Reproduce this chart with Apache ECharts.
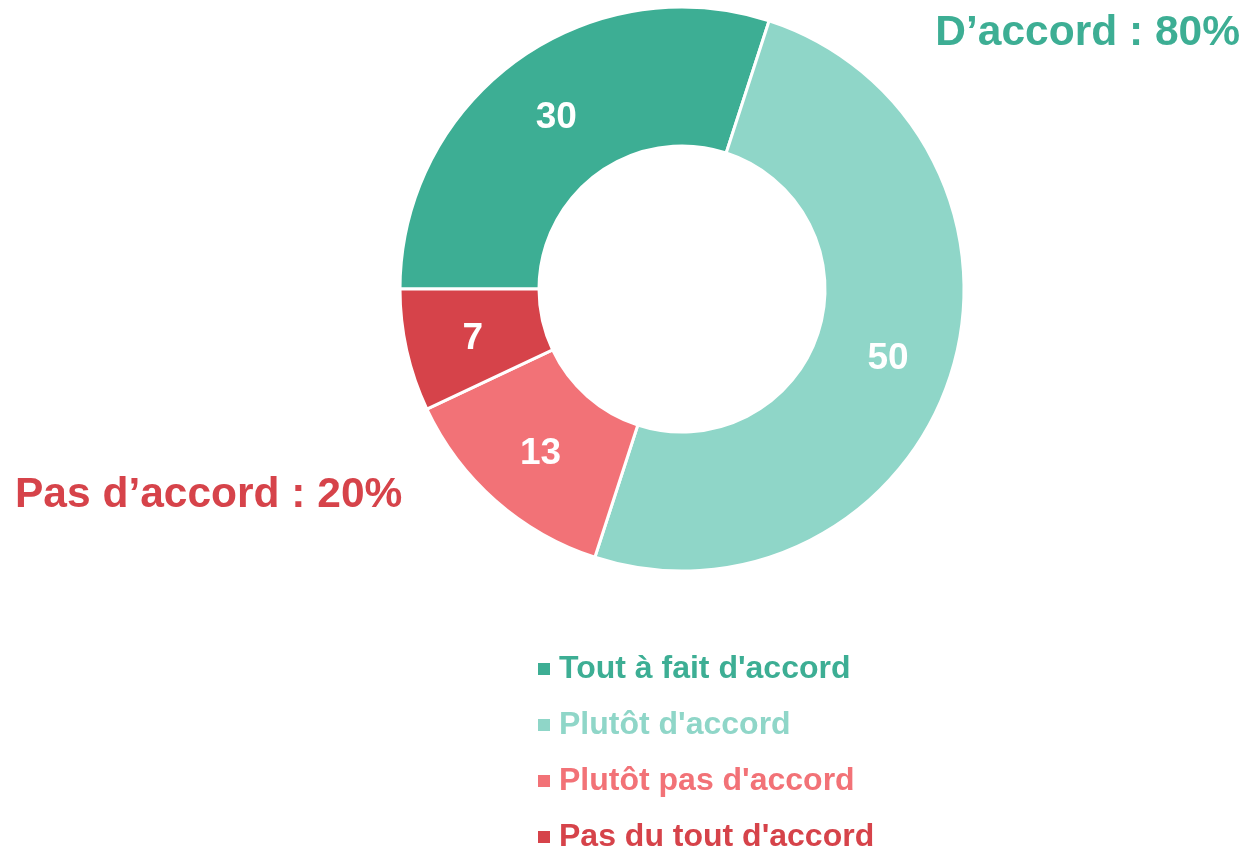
<!DOCTYPE html>
<html>
<head>
<meta charset="utf-8">
<script src="https://cdn.jsdelivr.net/npm/echarts@6/dist/echarts.min.js"></script>
<style>
  html, body { margin: 0; padding: 0; background: #fff; }
  #chart { width: 1246px; height: 849px; }
</style>
</head>
<body>
<div id="chart"></div>
<script>
  // données
  var categories = ["Tout à fait d'accord", "Plutôt d'accord", "Plutôt pas d'accord", "Pas du tout d'accord"];
  var values = [30, 50, 13, 7];
  var colors = ['#3DAE94', '#8FD6C8', '#F27277', '#D6434A'];

  var font = '"Liberation Sans", Arial, sans-serif';
  var agree = values[0] + values[1];
  var disagree = values[2] + values[3];

  var chart = echarts.init(document.getElementById('chart'));
  var option = {
    animation: false,
    color: colors,
    legend: {
      orient: 'vertical',
      left: 536,
      top: 651,
      height: 240,
      padding: 0,
      icon: 'rect',
      itemWidth: 14,
      itemHeight: 14,
      itemGap: 20,
      selectedMode: false,
      data: categories.map(function (c, i) {
        return {
          name: c,
          textStyle: {
            color: colors[i], fontSize: 32, fontWeight: 'bold', fontFamily: font,
            lineHeight: 36, padding: [0, 0, 0, 3]
          }
        };
      })
    },
    graphic: [
      {
        type: 'text',
        right: 6,
        top: 12,
        style: {
          text: 'D’accord : ' + agree + '%',
          fill: colors[0],
          font: 'bold 42.5px ' + font
        }
      },
      {
        type: 'text',
        left: 15,
        top: 474,
        style: {
          text: 'Pas d’accord : ' + disagree + '%',
          fill: colors[3],
          font: 'bold 42.5px ' + font
        }
      }
    ],
    series: [{
      type: 'pie',
      center: [682, 289],
      radius: [143, 282],
      startAngle: 180,
      clockwise: true,
      itemStyle: { borderColor: '#fff', borderWidth: 3 },
      label: {
        show: true,
        position: 'inside',
        formatter: '{c}',
        color: '#fff',
        fontSize: 37,
        fontWeight: 'bold',
        fontFamily: font,
        offset: [1, 3]
      },
      labelLine: { show: false },
      emphasis: { disabled: true },
      data: categories.map(function (c, i) {
        return { name: c, value: values[i] };
      })
    }]
  };
  chart.setOption(option);
</script>
</body>
</html>
